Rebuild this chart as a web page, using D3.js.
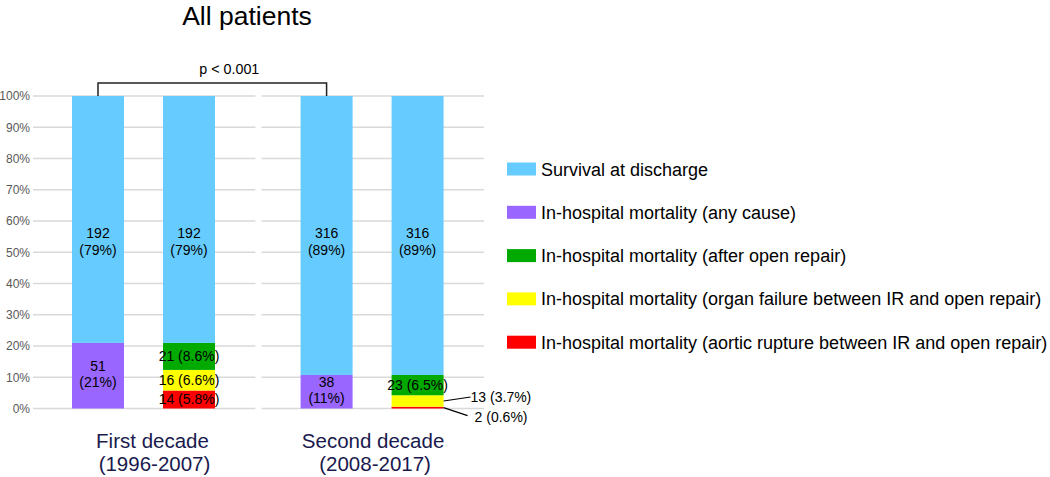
<!DOCTYPE html>
<html>
<head>
<meta charset="utf-8">
<script src="https://cdn.jsdelivr.net/npm/d3@7"></script>
<style>
  html, body { margin: 0; padding: 0; background: #fff; }
  svg { display: block; font-family: "Liberation Sans", Arial, sans-serif; }
</style>
</head>
<body>
<svg id="chart" width="1050" height="477"></svg>
<script>
// ---------- data ----------
const groupLabels = [["First decade", "(1996-2007)"], ["Second decade", "(2008-2017)"]];
const barGroup = [0, 0, 1, 1];
const barKind = ["overall", "breakdown", "overall", "breakdown"];

const seriesNames = [
  "Survival at discharge",
  "In-hospital mortality (any cause)",
  "In-hospital mortality (after open repair)",
  "In-hospital mortality (organ failure between IR and open repair)",
  "In-hospital mortality (aortic rupture between IR and open repair)"
];
const seriesColors = ["#66CCFF", "#9966FF", "#00AA00", "#FFFF00", "#FF0000"];

const survival      = [192, 192, 316, 316];
const anyCause      = [51, 0, 38, 0];
const afterOpen     = [0, 21, 0, 23];
const organFailure  = [0, 16, 0, 13];
const rupture       = [0, 14, 0, 2];

const survivalPct     = ["79%", "79%", "89%", "89%"];
const anyCausePct     = ["21%", "", "11%", ""];
const afterOpenPct    = ["", "8.6%", "", "6.5%"];
const organFailurePct = ["", "6.6%", "", "3.7%"];
const rupturePct      = ["", "5.8%", "", "0.6%"];

const yTicks = [0, 0.1, 0.2, 0.3, 0.4, 0.5, 0.6, 0.7, 0.8, 0.9, 1.0];
const pValueText = "p < 0.001";
const titleText = "All patients";

// ---------- layout ----------
const svg = d3.select("#chart");
const y = d3.scaleLinear().domain([0, 1]).range([408.5, 96]);
const xGroup = d3.scaleBand().domain([0, 1]).range([33, 484]).paddingInner(0.027);
const xInner = d3.scaleBand().domain(["overall", "breakdown"]).range([39, 182]).paddingInner(0.4286).paddingOuter(0);
const barX = i => xGroup(barGroup[i]) + xInner(barKind[i]);
const bw = xInner.bandwidth();

// stacking (bottom to top): rupture, organ failure, after open, any cause, survival
const rows = survival.map((s, i) => ({
  i,
  total: s + anyCause[i] + afterOpen[i] + organFailure[i] + rupture[i],
  rupture: rupture[i], organFailure: organFailure[i], afterOpen: afterOpen[i],
  anyCause: anyCause[i], survival: s
}));
rows.forEach(r => {
  ["rupture","organFailure","afterOpen","anyCause","survival"].forEach(k => r[k] = r[k] / r.total);
});
const keys = ["rupture", "organFailure", "afterOpen", "anyCause", "survival"];
const keyColor = { survival: seriesColors[0], anyCause: seriesColors[1], afterOpen: seriesColors[2], organFailure: seriesColors[3], rupture: seriesColors[4] };
const keyCount = { survival, anyCause, afterOpen, organFailure, rupture };
const keyPct = { survival: survivalPct, anyCause: anyCausePct, afterOpen: afterOpenPct, organFailure: organFailurePct, rupture: rupturePct };
const stack = d3.stack().keys(keys)(rows);

// title
svg.append("text").attr("x", 247).attr("y", 25).attr("text-anchor", "middle")
  .attr("font-size", 26.5).attr("fill", "#000").text(titleText);

// gridlines per panel
[0, 1].forEach(g => {
  svg.append("g").selectAll("line").data(yTicks).join("line")
    .attr("x1", xGroup(g)).attr("x2", xGroup(g) + xGroup.bandwidth())
    .attr("y1", d => y(d)).attr("y2", d => y(d))
    .attr("stroke", "#d9d9d9").attr("stroke-width", 1.5);
});

// y axis labels
const yAxis = d3.axisLeft(y).tickValues(yTicks).tickFormat(d3.format(".0%")).tickSize(0).tickPadding(0);
const ya = svg.append("g").attr("transform", "translate(30,0)").call(yAxis);
ya.select(".domain").remove();
ya.selectAll("text").attr("font-size", 12).attr("fill", "#595959")
  .attr("font-family", "'Liberation Sans', Arial, sans-serif");

// bars
stack.forEach(layer => {
  svg.append("g").selectAll("rect").data(layer.filter(d => d[1] - d[0] > 0)).join("rect")
    .attr("x", d => barX(d.data.i)).attr("width", bw)
    .attr("y", d => y(d[1])).attr("height", d => y(d[0]) - y(d[1]))
    .attr("fill", keyColor[layer.key]);
});

// bar labels
const FS = 14;
const lbl = svg.append("g").attr("font-size", FS).attr("fill", "#000").attr("text-anchor", "middle");
stack.forEach(layer => {
  const k = layer.key;
  layer.forEach(d => {
    const i = d.data.i;
    const cnt = keyCount[k][i];
    if (!cnt) return;
    const cx = barX(i) + bw / 2;
    if (k === "survival" || k === "anyCause") {
      const cy = k === "survival" ? y(0.535) : (y(d[0]) + y(d[1])) / 2 - 2;
      const t = lbl.append("text").attr("x", cx).attr("y", cy - 3);
      t.append("tspan").attr("x", cx).attr("dy", 0).text(cnt);
      t.append("tspan").attr("x", cx).attr("dy", 16.5).text("(" + keyPct[k][i] + ")");
    } else {
      const h = y(d[0]) - y(d[1]);
      const txt = cnt + " (" + keyPct[k][i] + ")";
      if (h >= 15) {
        lbl.append("text").attr("x", cx).attr("y", (y(d[0]) + y(d[1])) / 2 + 5).text(txt);
      } else {
        // outside label with leader line
        const x0 = barX(i) + bw;
        const ym = (y(d[0]) + y(d[1])) / 2;
        const isBottom = d[0] === 0;
        const tx = isBottom ? x0 + 24 : x0 + 27;
        const ty = isBottom ? ym + 8 : ym - 4;
        svg.append("line").attr("x1", x0).attr("y1", ym).attr("x2", tx).attr("y2", ty)
          .attr("stroke", "#000").attr("stroke-width", 1.2);
        svg.append("text").attr("x", tx + (isBottom ? 7 : 0)).attr("y", ty + (isBottom ? 6 : 5))
          .attr("font-size", FS).attr("fill", "#000").text(txt);
      }
    }
  });
});

// p-value bracket between the two "overall" bars
const bx1 = barX(0) + bw / 2, bx2 = barX(2) + bw / 2;
svg.append("path")
  .attr("d", `M${bx1},${y(1)} V83 H${bx2} V${y(1)}`)
  .attr("fill", "none").attr("stroke", "#222").attr("stroke-width", 1.5);
svg.append("text").attr("x", (bx1 + bx2) / 2 + 17).attr("y", 74).attr("text-anchor", "middle")
  .attr("font-size", 14.3).attr("fill", "#000").text(pValueText);

// group labels
const labelNudge = [9, 1];
groupLabels.forEach((lines, g) => {
  const cx = (barX(g * 2) + barX(g * 2 + 1) + bw) / 2 + labelNudge[g];
  const t = svg.append("text").attr("text-anchor", "middle").attr("font-size", 20.5).attr("fill", "#1a1a4e");
  t.append("tspan").attr("x", cx).attr("y", 448).text(lines[0]);
  t.append("tspan").attr("x", cx + 2).attr("y", 471).text(lines[1]);
});

// legend
const leg = svg.append("g").attr("transform", "translate(507,169)");
seriesNames.forEach((name, j) => {
  const gy = j * 43.3;
  leg.append("rect").attr("x", 0).attr("y", gy - 6.5).attr("width", 29).attr("height", 13).attr("fill", seriesColors[j]);
  leg.append("text").attr("x", 34).attr("y", gy + 6.5).attr("font-size", 18).attr("fill", "#000").text(name);
});
</script>
</body>
</html>
